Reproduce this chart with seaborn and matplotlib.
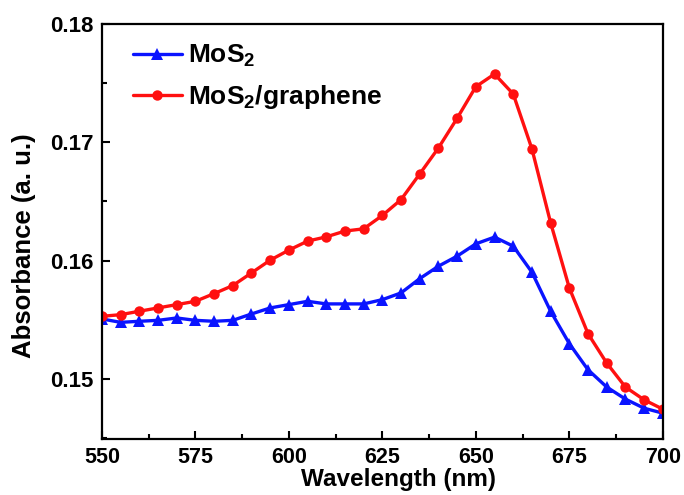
import matplotlib
matplotlib.use("Agg")
import matplotlib.pyplot as plt
import seaborn as sns
import pandas as pd
from matplotlib.ticker import MultipleLocator

wavelength = [550, 555, 560, 565, 570, 575, 580, 585, 590, 595, 600, 605, 610, 615, 620,
              625, 630, 635, 640, 645, 650, 655, 660, 665, 670, 675, 680, 685, 690, 695, 700]
mos2 = [0.15506, 0.15477, 0.15486, 0.15494, 0.15514, 0.15494, 0.15486, 0.15494, 0.15548,
        0.15599, 0.15627, 0.15655, 0.15633, 0.15633, 0.15633, 0.15669, 0.15726, 0.15847,
        0.15952, 0.16037, 0.16141, 0.16198, 0.16121, 0.15901, 0.15571, 0.15297, 0.15076,
        0.14930, 0.14828, 0.14751, 0.14709]
mos2_graphene = [0.15528, 0.15542, 0.15571, 0.15599, 0.15627, 0.15655, 0.15720, 0.15788,
                 0.15895, 0.16003, 0.16088, 0.16164, 0.16200, 0.16249, 0.16268, 0.16381,
                 0.16515, 0.16732, 0.16952, 0.17203, 0.17470, 0.17577, 0.17408, 0.16944,
                 0.16319, 0.15768, 0.15381, 0.15133, 0.14930, 0.14822, 0.14743]
labels = ["MoS$_2$", "MoS$_2$/graphene"]
xticks = [550, 575, 600, 625, 650, 675, 700]
yticks = [0.15, 0.16, 0.17, 0.18]

sns.set_style("ticks")
plt.rcParams["font.family"] = ["Liberation Sans", "DejaVu Sans"]
plt.rcParams["font.weight"] = "bold"
plt.rcParams["mathtext.fontset"] = "custom"
plt.rcParams["mathtext.rm"] = "Liberation Sans:bold"
plt.rcParams["mathtext.it"] = "Liberation Sans:bold"
plt.rcParams["mathtext.bf"] = "Liberation Sans:bold"
plt.rcParams["mathtext.default"] = "rm"
for k in ["text.color", "axes.labelcolor", "xtick.color", "ytick.color", "axes.edgecolor"]:
    plt.rcParams[k] = "black"

df = pd.DataFrame({"Wavelength": wavelength, "MoS2": mos2, "MoS2G": mos2_graphene})

fig = plt.figure(figsize=(6.84, 4.95), dpi=100)
ax = fig.add_axes([0.149, 0.113, 0.820, 0.8385])

sns.lineplot(data=df, x="Wavelength", y="MoS2", ax=ax, color="#0a14ff", lw=2.4,
             marker="^", markersize=8.5, markeredgewidth=0, label=labels[0])
sns.lineplot(data=df, x="Wavelength", y="MoS2G", ax=ax, color="#ff1010", lw=2.4,
             marker="o", markersize=7.5, markeredgewidth=0, label=labels[1])

ax.set_xlim(550, 700)
ax.set_ylim(0.1449, 0.18)
ax.set_xticks(xticks)
ax.set_yticks(yticks)
ax.set_yticklabels([f"{v:.2f}" for v in yticks])
ax.xaxis.set_minor_locator(MultipleLocator(12.5))
ax.yaxis.set_minor_locator(MultipleLocator(0.005))
ax.tick_params(which="major", direction="in", length=6, width=1.5, labelsize=16, pad=6)
ax.tick_params(axis="x", which="major", labelsize=15.5, pad=6)
ax.tick_params(which="minor", direction="in", length=3.5, width=1.5)
for lab in ax.get_xticklabels() + ax.get_yticklabels():
    lab.set_fontweight("bold")
for s in ax.spines.values():
    s.set_linewidth(1.6)
    s.set_visible(True)

ax.set_xlabel("Wavelength (nm)", fontsize=17.5, fontweight="bold")
ax.set_ylabel("Absorbance (a. u.)", fontsize=18.5, fontweight="bold")
ax.xaxis.set_label_coords(0.529, -0.070)
ax.yaxis.set_label_coords(-0.139, 0.467)
ax.yaxis.label.set_verticalalignment("center")

leg = ax.legend(loc="upper left", frameon=False, fontsize=19, handlelength=1.85,
                handletextpad=0.25, labelspacing=0.53, borderaxespad=0.0,
                bbox_to_anchor=(0.0365, 0.98))
for t in leg.get_texts():
    t.set_fontweight("bold")

fig.savefig("out.png", dpi=100)
